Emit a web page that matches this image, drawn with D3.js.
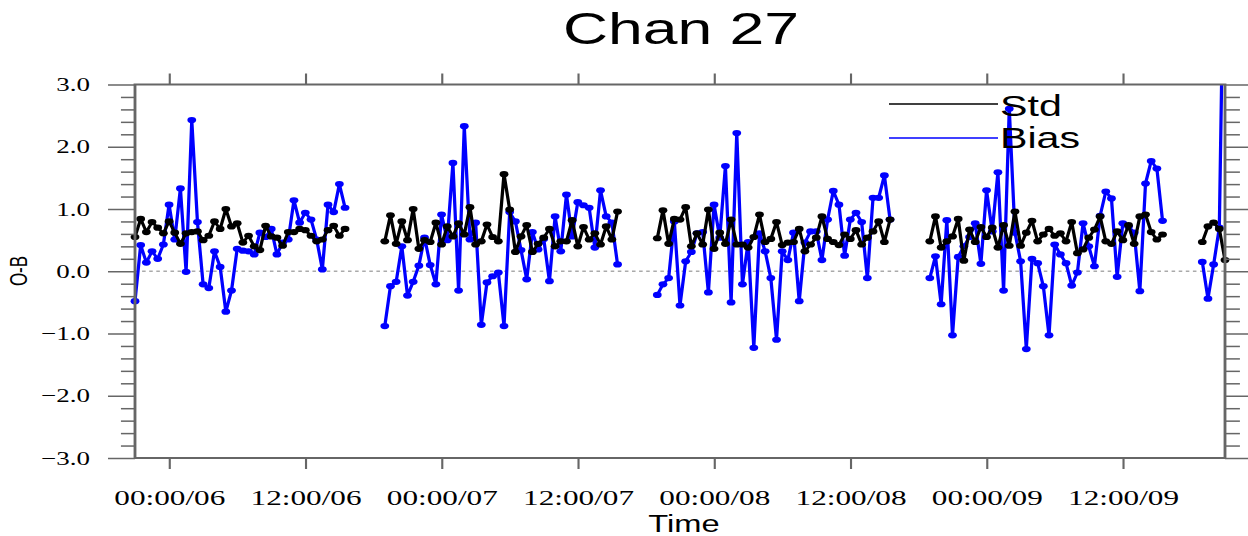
<!DOCTYPE html>
<html>
<head>
<meta charset="utf-8">
<script src="https://cdn.jsdelivr.net/npm/d3@7"></script>
<style>
  body { margin: 0; background: #fff; }
  svg { display: block; }
</style>
</head>
<body>
<svg id="chart"></svg>
<script>
// ---- data (30 min steps) ----
const segStarts = ['2021-01-05T21:00Z', '2021-01-06T19:00Z', '2021-01-07T19:00Z', '2021-01-08T19:00Z', '2021-01-09T19:00Z'];

const stdSeg1 = [0.55,0.84,0.63,0.79,0.70,0.61,0.80,0.62,0.44,0.61,0.63,0.64,0.50,0.57,0.80,0.68,1.00,0.72,0.77,0.46,
  0.57,0.40,0.34,0.73,0.56,0.54,0.41,0.63,0.63,0.68,0.66,0.57,0.48,0.51,0.66,0.73,0.57,0.68];
const biasSeg1 = [-0.48,0.42,0.14,0.32,0.20,0.43,1.07,0.51,1.33,-0.01,2.43,0.79,-0.21,-0.27,0.32,0.07,-0.65,-0.31,0.36,0.33,
  0.32,0.27,0.62,0.55,0.68,0.27,0.46,0.51,1.14,0.78,0.94,0.83,0.51,0.03,1.07,0.95,1.40,1.02];

const stdSeg2 = [0.48,0.90,0.44,0.80,0.50,1.00,0.36,0.50,0.47,0.78,0.43,0.72,0.56,0.77,0.59,1.03,0.43,0.48,0.75,0.55,
  0.48,1.56,0.99,0.31,0.56,0.74,0.31,0.44,0.54,0.68,0.40,0.48,0.48,0.82,0.40,0.71,0.51,0.61,0.43,0.72,0.51,0.96];
const biasSeg2 = [-0.88,-0.24,-0.17,0.40,-0.39,-0.17,0.09,0.54,0.10,-0.21,0.91,0.50,1.74,-0.31,2.33,0.51,0.78,-0.86,-0.18,-0.08,
  -0.02,-0.88,0.95,0.80,0.34,-0.13,0.63,0.35,0.52,-0.16,0.88,0.32,1.23,0.56,1.11,1.06,1.02,0.38,1.30,0.88,0.78,0.11];

const stdSeg3 = [0.53,0.98,0.44,0.84,0.83,1.03,0.40,0.61,0.43,0.99,0.36,0.62,0.44,0.83,0.43,0.43,0.38,0.55,0.91,0.47,
  0.52,0.79,0.42,0.46,0.47,0.68,0.32,0.43,0.54,0.88,0.52,0.47,0.42,0.59,0.52,0.66,0.43,0.54,0.64,0.80,0.47,0.83];
const biasSeg3 = [-0.38,-0.21,-0.11,0.80,-0.55,0.16,0.31,0.61,0.63,-0.34,1.07,0.54,1.69,-0.50,2.22,-0.21,0.47,-1.23,0.61,0.32,
  -0.11,-1.10,0.32,0.18,0.62,-0.48,0.46,0.64,0.64,0.18,0.83,1.29,1.07,0.25,0.83,0.94,0.79,-0.11,1.18,1.18,1.54,0.83];

const stdSeg4 = [0.48,0.88,0.38,0.48,0.56,0.84,0.17,0.67,0.47,0.71,0.55,0.70,0.38,0.74,0.41,0.96,0.41,0.62,0.81,0.48,
  0.59,0.68,0.57,0.61,0.48,0.79,0.29,0.35,0.54,0.67,0.88,0.48,0.44,0.64,0.50,0.74,0.44,0.88,0.91,0.63,0.51,0.59];
const biasSeg4 = [-0.11,0.24,-0.53,0.82,-1.03,0.23,0.40,0.55,0.77,0.12,1.30,0.64,1.59,-0.31,2.61,0.62,0.16,-1.25,0.20,0.13,
  -0.24,-1.03,0.43,0.27,0.13,-0.23,-0.02,0.77,0.40,0.08,0.89,1.28,1.17,-0.09,0.77,0.72,0.62,-0.32,1.41,1.77,1.65,0.81];

const stdSeg5 = [0.47,0.72,0.78,0.68,0.18];
const biasSeg5 = [0.15,-0.44,0.11,0.70,6.5];

const stdSegs = [stdSeg1, stdSeg2, stdSeg3, stdSeg4, stdSeg5];
const biasSegs = [biasSeg1, biasSeg2, biasSeg3, biasSeg4, biasSeg5];

const yTicks = [-3, -2, -1, 0, 1, 2, 3];
const title = 'Chan 27';
const legendItems = [{ name: 'Std', color: '#000' }, { name: 'Bias', color: '#0000ff' }];

// ---- layout ----
const W = 1248, H = 536;
const sx = 1.42; // the reference is drawn stretched sideways
const plotL = 135 / sx, plotR = 1225 / sx, plotT = 84.5, plotB = 458;
const stepMs = 30 * 60 * 1000;
const gray = '#666';

const svg = d3.select('#chart').attr('width', W).attr('height', H);
const root = svg.append('g').attr('transform', `scale(${sx},1)`);

const x = d3.scaleUtc()
  .domain([new Date('2021-01-05T21:00Z'), new Date('2021-01-09T21:00Z')])
  .range([plotL, plotR]);
const y = d3.scaleLinear().domain([-3, 3]).range([plotB, plotT]);

function toPoints(vals, start) {
  const t0 = +new Date(start);
  return vals.map((v, i) => ({ t: new Date(t0 + i * stepMs), v }));
}

root.append('clipPath').attr('id', 'plot-clip')
  .append('rect')
  .attr('x', plotL - 3).attr('y', plotT)
  .attr('width', plotR - plotL + 6).attr('height', plotB - plotT);

// zero reference line
root.append('line')
  .attr('x1', plotL).attr('x2', plotR)
  .attr('y1', y(0)).attr('y2', y(0))
  .attr('stroke', '#aaa').attr('stroke-width', 1.6)
  .attr('stroke-dasharray', '2.5,2.5');

const line = d3.line().x(d => x(d.t)).y(d => y(d.v));
const plot = root.append('g');

function drawSeries(segs, color) {
  const g = plot.append('g');
  segs.forEach((vals, k) => {
    const pts = toPoints(vals, segStarts[k]);
    g.append('path')
      .attr('d', line(pts))
      .attr('clip-path', 'url(#plot-clip)')
      .attr('fill', 'none')
      .attr('stroke', color)
      .attr('stroke-width', 2.3)
      .attr('stroke-linejoin', 'round');
    g.selectAll(null)
      .data(pts.filter(d => d.v <= 3 && d.v >= -3))
      .join('circle')
      .attr('cx', d => x(d.t))
      .attr('cy', d => y(d.v))
      .attr('r', 3.1)
      .attr('fill', color);
  });
}
drawSeries(biasSegs, '#0000ff');
drawSeries(stdSegs, '#000');

// ---- axes ----
const minorTicks = d3.range(-3, 3.01, 0.2).map(v => +v.toFixed(1)).filter(v => !yTicks.includes(v));

function styleAxis(g) {
  g.select('.domain').remove();
  g.selectAll('line').attr('stroke', gray).attr('stroke-width', 1.5);
}

root.append('g')
  .attr('transform', `translate(${plotL},0)`)
  .call(d3.axisLeft(y).tickValues(minorTicks).tickSize(9.9).tickFormat(''))
  .call(styleAxis);
root.append('g')
  .attr('transform', `translate(${plotL},0)`)
  .call(d3.axisLeft(y).tickValues(yTicks).tickSize(19).tickPadding(12.7).tickFormat(d3.format('.1f')))
  .call(styleAxis)
  .call(g => g.selectAll('text')
    .attr('font-family', '"Liberation Serif", "Times New Roman", serif')
    .attr('font-size', 19).attr('fill', '#000'));

root.append('g')
  .attr('transform', `translate(${plotR},0)`)
  .call(d3.axisRight(y).tickValues(minorTicks).tickSize(10.5).tickFormat(''))
  .call(styleAxis);
root.append('g')
  .attr('transform', `translate(${plotR},0)`)
  .call(d3.axisRight(y).tickValues(yTicks).tickSize(19).tickFormat(''))
  .call(styleAxis);

const hourTicks = d3.utcHour.every(12);
root.append('g')
  .attr('transform', `translate(0,${plotB})`)
  .call(d3.axisBottom(x).ticks(hourTicks).tickSize(11).tickPadding(20).tickFormat(d3.utcFormat('%H:%M/%d')))
  .call(styleAxis)
  .call(g => g.selectAll('text')
    .attr('font-family', '"Liberation Serif", "Times New Roman", serif')
    .attr('font-size', 22).attr('fill', '#000'));
root.append('g')
  .attr('transform', `translate(0,${plotT})`)
  .call(d3.axisTop(x).ticks(hourTicks).tickSize(11).tickFormat(''))
  .call(styleAxis);

// frame
root.append('rect')
  .attr('x', plotL).attr('y', plotT)
  .attr('width', plotR - plotL).attr('height', plotB - plotT)
  .attr('fill', 'none').attr('stroke', gray).attr('stroke-width', 2);

// ---- text ----
const sans = '"Liberation Sans", Arial, Helvetica, sans-serif';

root.append('text')
  .attr('x', 681 / sx).attr('y', 44)
  .attr('text-anchor', 'middle')
  .attr('font-family', sans).attr('font-size', 44)
  .text(title);

root.append('text')
  .attr('x', 684 / sx).attr('y', 532)
  .attr('text-anchor', 'middle')
  .attr('font-family', sans).attr('font-size', 23)
  .text('Time');

root.append('text')
  .attr('transform', `translate(${27 / sx},271) rotate(-90)`)
  .attr('text-anchor', 'middle')
  .attr('font-family', sans).attr('font-size', 17)
  .text('O-B');

// legend
const legend = root.append('g');
legend.selectAll('line')
  .data(legendItems)
  .join('line')
  .attr('x1', 889 / sx).attr('x2', 998 / sx)
  .attr('y1', (d, i) => 104 + i * 34).attr('y2', (d, i) => 104 + i * 34)
  .attr('stroke', d => d.color).attr('stroke-width', 1.6);
legend.selectAll('text')
  .data(legendItems)
  .join('text')
  .attr('x', 1000 / sx)
  .attr('y', (d, i) => 116 + i * 32)
  .attr('font-family', sans).attr('font-size', 29)
  .text(d => d.name);
</script>
</body>
</html>
